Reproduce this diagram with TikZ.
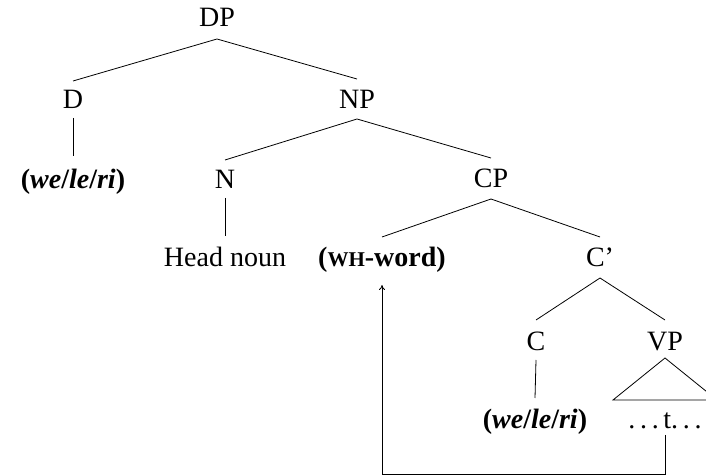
\documentclass[tikz,border=0pt]{standalone}
\usepackage{fontspec}
\setmainfont{Liberation Serif}
\usetikzlibrary{arrows.meta}
\newcommand{\wlr}{\textbf{(\textit{we}/\textit{le}/\textit{ri})}}
\newcommand{\fakesc}[1]{{\fontsize{21}{24}\selectfont #1}}
\begin{document}
\begin{tikzpicture}[x=1pt,y=1pt,
  lbl/.style={inner sep=0pt, text height=22pt, text depth=4pt, font=\fontsize{28}{32}\selectfont},
  edge/.style={line width=0.8pt}]
\useasboundingbox (0,0) rectangle (706,476);
\node[lbl] (DP) at (217,458) {DP};
\node[lbl] (D) at (73,376) {D};
\node[lbl] (NP) at (357,376) {NP};
\node[lbl] (W1) at (73,296) {\wlr};
\node[lbl] (N) at (225,296) {N};
\node[lbl] (CP) at (491,297) {CP};
\node[lbl] (Head) at (225,218) {Head noun};
\node[lbl] (WH) at (382,218) {\textbf{(\fakesc{WH}-word)}};
\node[lbl] (Cb) at (600,218) {C’};
\node[lbl] (C) at (536,134) {C};
\node[lbl] (VP) at (665,134) {VP};
\node[lbl] (W2) at (535,56) {\wlr};
\node[lbl] (T) at (665,56) {.\,.\,.\,t.\,.\,.};
\draw[edge] ([yshift=19pt]D.center) -- ([yshift=-21pt]DP.center) -- ([yshift=21pt]NP.center);
\draw[edge] ([yshift=-18pt]D.center) -- ([yshift=24pt]W1.center);
\draw[edge] ([yshift=20pt]N.center) -- ([yshift=-19pt]NP.center) -- ([yshift=21pt]CP.center);
\draw[edge] ([yshift=-18pt]N.center) -- ([yshift=22pt]Head.center);
\draw[edge] ([yshift=21pt]WH.center) -- ([yshift=-20pt]CP.center) -- ([yshift=21pt]Cb.center);
\draw[edge] ([yshift=22pt]C.center) -- ([yshift=-20pt]Cb.center) -- ([yshift=22pt]VP.center);
\draw[edge] ([yshift=-18pt]C.center) -- ([yshift=22pt]W2.center);
\draw[edge] ([yshift=-16pt]VP.center) -- ([xshift=-52pt,yshift=20pt]T.center) -- ([xshift=52pt,yshift=20pt]T.center) -- cycle;
\coordinate (bot) at (0,2);
\draw[edge,-{To[length=5pt,width=6pt]}] ([yshift=-15pt]T.center) -- (T.center |- bot) -| ([yshift=-27pt]WH.center);
\end{tikzpicture}
\end{document}
